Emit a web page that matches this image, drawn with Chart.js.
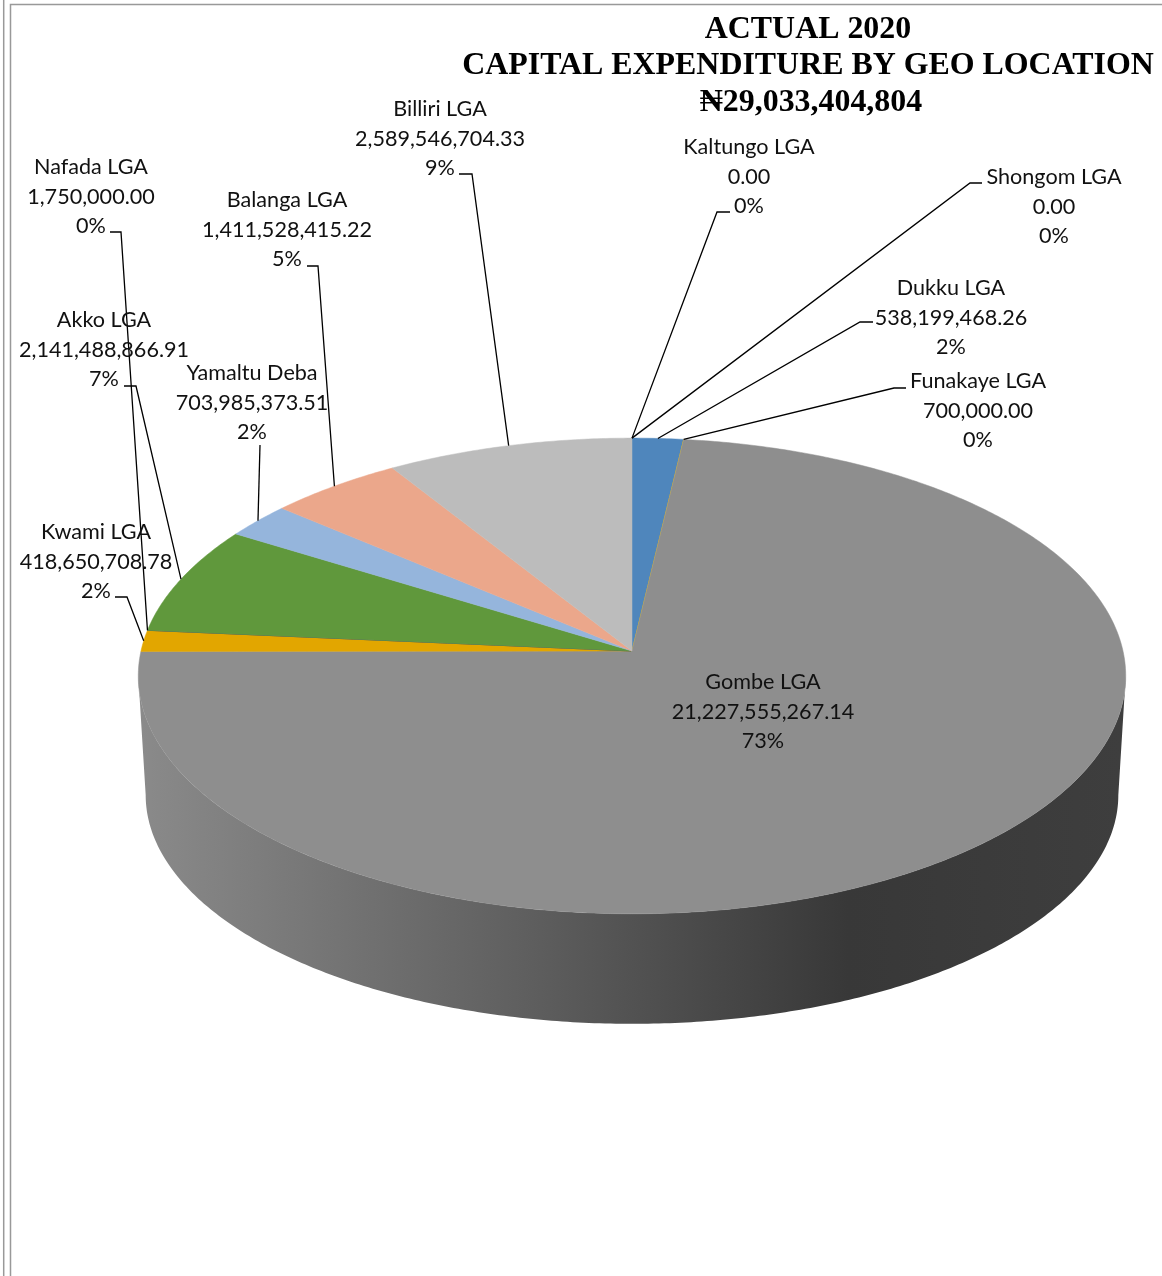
<!DOCTYPE html>
<html>
<head>
<meta charset="utf-8">
<title>Actual 2020 Capital Expenditure by Geo Location</title>
<script src="https://cdn.jsdelivr.net/npm/chart.js@4/dist/chart.umd.min.js"></script>
<style>
  html, body { margin: 0; padding: 0; background: #fff; }
  canvas { display: block; }
</style>
</head>
<body>
<canvas id="pieChart" width="1162" height="1276"></canvas>
<script>
// ── Data ──
const titleLines = ['ACTUAL 2020', 'CAPITAL EXPENDITURE BY GEO LOCATION', '₦29,033,404,804'];
const categories = ['Kaltungo LGA', 'Shongom LGA', 'Dukku LGA', 'Funakaye LGA', 'Gombe LGA', 'Kwami LGA',
  'Nafada LGA', 'Akko LGA', 'Yamaltu Deba', 'Balanga LGA', 'Billiri LGA'];
const amounts = [0, 0, 538199468.26, 700000, 21227555267.14, 418650708.78,
  1750000, 2141488866.91, 703985373.51, 1411528415.22, 2589546704.33];
const percentLabels = ['0%', '0%', '2%', '0%', '73%', '2%', '0%', '7%', '2%', '5%', '9%'];
const sliceColors = ['#4472c4', '#ed7d31', '#4f86bc', '#ffc000', '#8e8e8e', '#e2a600',
  '#264478', '#60983c', '#95b5dc', '#eba78b', '#bcbcbc'];

// ── Label layout: centre x, first line y, leader polyline start ──
const labelPlaces = [
  { cx: 749, y: 147, leader: [[730, 212], [717, 212]] },
  { cx: 1054, y: 177, leader: [[982, 183], [970, 183]] },
  { cx: 951, y: 288, leader: [[873, 322], [860, 322]] },
  { cx: 978, y: 381, leader: [[906, 388], [894, 388]] },
  { cx: 763, y: 682, leader: null },
  { cx: 96, y: 532, leader: [[115, 597], [127, 597]] },
  { cx: 91, y: 167, leader: [[110, 232], [121, 232]] },
  { cx: 104, y: 320, leader: [[124, 386], [136, 386]] },
  { cx: 252, y: 373, leader: [[260, 445]] },
  { cx: 287, y: 200, leader: [[307, 266], [318, 266]] },
  { cx: 440, y: 109, leader: [[459, 174], [472, 174]] }
];

// ── Tilted disc projection (perspective on the unit circle) ──
const TILT = { yScale: 0.4791, k: 0.105, drop: 120, wallX: 0.985, wallY: 0.962 };

function project(arc, theta, lower) {
  const u = Math.sin(theta), v = Math.cos(theta);
  const w = 1 + TILT.k * v;
  const A = arc.outerRadius, B = A * TILT.yScale;
  if (lower) {
    return [arc.x + A * TILT.wallX * u / w, arc.y + TILT.drop - B * TILT.wallY * v / w];
  }
  return [arc.x + A * u / w, arc.y - B * v / w];
}

// library angles start at 3 o'clock, theta here starts at 12 o'clock
const toTheta = a => a + Math.PI / 2;

// ── Slices drawn through the projection ──
Chart.ArcElement.prototype.draw = function (ctx) {
  const t0 = toTheta(this.startAngle), t1 = toTheta(this.endAngle);
  if (t1 - t0 <= 0) return;
  ctx.save();
  ctx.beginPath();
  ctx.moveTo(this.x, this.y);
  const steps = Math.ceil((t1 - t0) / 0.01);
  for (let i = 0; i <= steps; i++) {
    const p = project(this, t0 + (t1 - t0) * i / steps);
    ctx.lineTo(p[0], p[1]);
  }
  ctx.closePath();
  ctx.fillStyle = this.options.backgroundColor;
  ctx.strokeStyle = this.options.backgroundColor;
  ctx.lineWidth = 0.5;
  ctx.fill();
  ctx.stroke();
  ctx.restore();
};

// ── Side wall of the disc, under the slices ──
const wallPlugin = {
  id: 'wall',
  beforeDatasetsDraw(chart) {
    const ctx = chart.ctx;
    const side = Math.acos(-TILT.k);
    const from = side, to = 2 * Math.PI - side;
    chart.getDatasetMeta(0).data.forEach(arc => {
      const t0 = Math.max(toTheta(arc.startAngle), from);
      const t1 = Math.min(toTheta(arc.endAngle), to);
      if (t1 <= t0) return;
      const grad = ctx.createLinearGradient(arc.x - arc.outerRadius, 0, arc.x + arc.outerRadius, 0);
      grad.addColorStop(0, '#8a8a8a');
      grad.addColorStop(0.39, '#5f5f5f');
      grad.addColorStop(0.72, '#383838');
      grad.addColorStop(1, '#3e3e3e');
      ctx.save();
      ctx.beginPath();
      const steps = Math.ceil((t1 - t0) / 0.01);
      for (let i = 0; i <= steps; i++) {
        const p = project(arc, t0 + (t1 - t0) * i / steps, false);
        ctx.lineTo(p[0], p[1]);
      }
      for (let i = steps; i >= 0; i--) {
        const p = project(arc, t0 + (t1 - t0) * i / steps, true);
        ctx.lineTo(p[0], p[1]);
      }
      ctx.closePath();
      ctx.fillStyle = grad;
      ctx.fill();
      ctx.restore();
    });
  }
};

// ── Frame lines, title, leaders and labels ──
const annotatePlugin = {
  id: 'annotate',
  beforeDraw(chart) {
    const ctx = chart.ctx;
    ctx.save();
    ctx.strokeStyle = '#999';
    ctx.lineWidth = 1.5;
    ctx.beginPath();
    ctx.moveTo(3.7, 0); ctx.lineTo(3.7, 1276);
    ctx.moveTo(10.5, 1276); ctx.lineTo(10.5, 4.5); ctx.lineTo(1162, 4.5);
    ctx.stroke();
    ctx.restore();
  },
  afterDatasetsDraw(chart) {
    const ctx = chart.ctx;
    const arcs = chart.getDatasetMeta(0).data;

    ctx.save();
    ctx.strokeStyle = '#000';
    ctx.lineWidth = 1.3;
    arcs.forEach((arc, i) => {
      const place = labelPlaces[i];
      if (!place.leader) return;
      const end = project(arc, toTheta((arc.startAngle + arc.endAngle) / 2));
      ctx.beginPath();
      place.leader.forEach((p, n) => n ? ctx.lineTo(p[0], p[1]) : ctx.moveTo(p[0], p[1]));
      ctx.lineTo(end[0], end[1]);
      ctx.stroke();
    });

    ctx.fillStyle = '#111';
    ctx.textAlign = 'center';
    ctx.textBaseline = 'middle';
    ctx.font = '21.6px Lato, sans-serif';
    categories.forEach((name, i) => {
      const place = labelPlaces[i];
      const money = amounts[i].toLocaleString('en-US', { minimumFractionDigits: 2, maximumFractionDigits: 2 });
      ctx.fillText(name, place.cx, place.y + 0.5);
      ctx.fillText(money, place.cx, place.y + 30);
      ctx.fillText(percentLabels[i], place.cx, place.y + 59.5);
    });

    ctx.fillStyle = '#000';
    ctx.font = 'bold 31.9px "Liberation Serif", serif';
    const titleY = [30, 66, 103];
    titleLines.forEach((line, i) => ctx.fillText(line, i === 2 ? 811 : 808, titleY[i]));
    ctx.restore();
  }
};

// ── Chart ──
new Chart(document.getElementById('pieChart'), {
  type: 'pie',
  data: {
    labels: categories,
    datasets: [{
      data: amounts,
      backgroundColor: sliceColors,
      borderWidth: 0,
      hoverOffset: 0
    }]
  },
  options: {
    responsive: false,
    animation: false,
    layout: { padding: { left: 141, right: 39, top: 160, bottom: 134 } },
    plugins: { legend: { display: false }, title: { display: false }, tooltip: { enabled: false } }
  },
  plugins: [wallPlugin, annotatePlugin]
});
</script>
</body>
</html>
